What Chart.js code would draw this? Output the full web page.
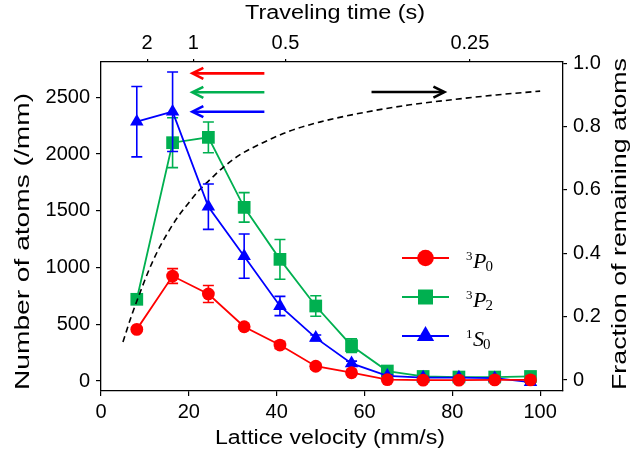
<!DOCTYPE html>
<html><head><meta charset="utf-8">
<script src="https://cdn.jsdelivr.net/npm/chart.js@4.4.1/dist/chart.umd.min.js"></script>
<style>html,body{margin:0;padding:0;background:#fff;} #wrap{width:631px;height:466px;position:relative;}</style>
</head><body><div id="wrap"><canvas id="c" width="631" height="466"></canvas></div>
<script>
// ---- data ----
const velocities = [8.15, 16.3, 24.45, 32.6, 40.75, 48.9, 57.05, 65.2, 73.35, 81.5, 89.65, 97.8];
const p0Atoms = [455, 925, 767, 478, 317, 130, 73, 12, 8, 8, 10, 10];
const p0Err   = [15, 65, 75, 20, 30, 25, 22, 8, 8, 8, 8, 8];
const p2Atoms = [720, 2100, 2147, 1530, 1072, 661, 311, 88, 40, 35, 35, 40];
const p2Err   = [20, 220, 135, 130, 175, 90, 60, 15, 10, 10, 10, 10];
const s0Atoms = [2285, 2373, 1536, 1100, 661, 380, 155, 45, 30, 30, 25, -10];
const s0Err   = [310, 350, 200, 195, 85, 25, 20, 10, 10, 10, 10, 10];
const fracVelocity  = [5, 7, 9, 11, 13, 15, 17.5, 20, 22.4, 25, 27.7, 31.5, 37, 43, 50, 60, 70, 80, 90, 100];
const fracRemaining = [0.12, 0.205, 0.28, 0.35, 0.41, 0.46, 0.515, 0.56, 0.60, 0.635, 0.67, 0.71, 0.75, 0.786, 0.815, 0.845, 0.868, 0.885, 0.90, 0.912];
const bottomTicks = [0, 20, 40, 60, 80, 100];
const leftTicks = [0, 500, 1000, 1500, 2000, 2500];
const rightTicks = [0, 0.2, 0.4, 0.6, 0.8, 1.0];
const topTickVelocities = [10.5, 21, 42, 84];
const topTickLabels = ['2', '1', '0.5', '0.25'];
const legendSup = ['3', '3', '1'];
const legendLetter = ['P', 'P', 'S'];
const legendSub = ['0', '2', '0'];
// arrows: from velocity, to velocity (tip), level on left axis
const arrowFrom = [37.2, 37.2, 37.2, 61.6];
const arrowTo   = [20.8, 20.8, 20.8, 78.2];
const arrowLevel = [2711, 2544, 2373, 2546];

const RED = '#ff0000', GREEN = '#00b050', BLUE = '#0000ff', BLACK = '#000000';
const arrowColors = [RED, GREEN, BLUE, BLACK];
const toXY = (xs, ys) => xs.map((x, i) => ({x: x, y: ys[i]}));
const SANS = '"Liberation Sans", Arial, sans-serif';
const SERIF = '"Liberation Serif", "Times New Roman", serif';

const errorBars = {
  id: 'errorBars',
  beforeDatasetDraw(chart, args) {
    const ds = chart.data.datasets[args.index];
    if (!ds.errors) return;
    const xs = chart.scales.x, ys = chart.scales[ds.yAxisID];
    const ctx = chart.ctx;
    ctx.save();
    ctx.strokeStyle = ds.borderColor; ctx.lineWidth = 1.6;
    ds.data.forEach((p, i) => {
      const e = ds.errors[i];
      const px = xs.getPixelForValue(p.x);
      const y1 = ys.getPixelForValue(p.y + e), y2 = ys.getPixelForValue(p.y - e);
      ctx.beginPath();
      ctx.moveTo(px, y1); ctx.lineTo(px, y2);
      ctx.moveTo(px - 5.5, y1); ctx.lineTo(px + 5.5, y1);
      ctx.moveTo(px - 5.5, y2); ctx.lineTo(px + 5.5, y2);
      ctx.stroke();
    });
    ctx.restore();
  }
};

function stretchedText(ctx, text, x, y, targetW, rotate, font) {
  ctx.save();
  ctx.translate(x, y);
  if (rotate) ctx.rotate(-Math.PI / 2);
  ctx.font = font;
  const w = ctx.measureText(text).width;
  ctx.scale(targetW / w, 1);
  ctx.textAlign = 'center'; ctx.textBaseline = 'alphabetic'; ctx.fillStyle = '#000';
  ctx.fillText(text, 0, 0);
  ctx.restore();
}

const decorations = {
  id: 'decorations',
  afterDatasetsDraw(chart) {
    const ctx = chart.ctx, xs = chart.scales.x, ys = chart.scales.y;
    ctx.save();
    arrowFrom.forEach((f, i) => {
      const x0 = xs.getPixelForValue(f), x1 = xs.getPixelForValue(arrowTo[i]);
      const y = ys.getPixelForValue(arrowLevel[i]);
      const dir = x1 < x0 ? 1 : -1;
      ctx.strokeStyle = arrowColors[i]; ctx.lineWidth = 2.6; ctx.lineCap = 'butt'; ctx.lineJoin = 'miter';
      ctx.beginPath(); ctx.moveTo(x0, y); ctx.lineTo(x1 + dir, y); ctx.stroke();
      ctx.beginPath();
      ctx.moveTo(x1 + dir * 11, y - 5.5); ctx.lineTo(x1, y); ctx.lineTo(x1 + dir * 11, y + 5.5);
      ctx.stroke();
    });
    ctx.restore();
  },
  afterDraw(chart) {
    const ctx = chart.ctx;
    const o = chart.options.scales;
    stretchedText(ctx, o.x.title.text, 330, 444, 230, false, '20px ' + SANS);
    stretchedText(ctx, o.xTop.title.text, 335, 19, 180, false, '20px ' + SANS);
    stretchedText(ctx, o.y.title.text, 28.5, 241.5, 297, true, '20px ' + SANS);
    stretchedText(ctx, o.y2.title.text, 626, 224, 332, true, '20px ' + SANS);
    const legendY = [258, 297, 336];
    const legendColors = [RED, GREEN, BLUE];
    ctx.save();
    legendY.forEach((yc, i) => {
      const c = legendColors[i];
      ctx.strokeStyle = c; ctx.fillStyle = c; ctx.lineWidth = 2;
      ctx.beginPath(); ctx.moveTo(402, yc); ctx.lineTo(449, yc); ctx.stroke();
      ctx.beginPath();
      if (i === 0) { ctx.arc(425.5, yc, 8.3, 0, Math.PI * 2); }
      else if (i === 1) { ctx.rect(418, yc - 7.5, 15, 15); }
      else { const r = 10; ctx.moveTo(425.5, yc - r); ctx.lineTo(425.5 + r * 0.866, yc + r / 2); ctx.lineTo(425.5 - r * 0.866, yc + r / 2); ctx.closePath(); }
      ctx.fill();
      ctx.fillStyle = '#000'; ctx.textBaseline = 'alphabetic'; ctx.textAlign = 'left';
      let x = 466;
      ctx.font = '13px ' + SERIF; ctx.fillText(legendSup[i], x, yc + 1.5);
      x += ctx.measureText(legendSup[i]).width + 0.5;
      ctx.font = 'italic 22px ' + SERIF; ctx.fillText(legendLetter[i], x, yc + 9.5);
      x += ctx.measureText(legendLetter[i]).width - 1;
      ctx.font = '15px ' + SERIF; ctx.fillText(legendSub[i], x, yc + 13);
    });
    ctx.restore();
  }
};

const tickFont = {family: SANS, size: 20};
const gridOpts = (len) => ({drawOnChartArea: false, drawTicks: true, tickLength: len, color: '#000', lineWidth: 1.2});
const borderOpts = {display: true, color: '#000', width: 1.3};

new Chart(document.getElementById('c'), {
  type: 'line',
  data: {
    datasets: [
      {label: '3P0', data: toXY(velocities, p0Atoms), errors: p0Err, yAxisID: 'y', xAxisID: 'x',
       borderColor: RED, backgroundColor: RED, pointBackgroundColor: RED, pointStyle: 'circle', pointRadius: 6.4, pointBorderWidth: 0, borderWidth: 1.8},
      {label: '1S0', data: toXY(velocities, s0Atoms), errors: s0Err, yAxisID: 'y', xAxisID: 'x',
       borderColor: BLUE, backgroundColor: BLUE, pointBackgroundColor: BLUE, pointStyle: 'triangle', pointRadius: 7.8, pointBorderWidth: 0, borderWidth: 1.8},
      {label: 'Fraction of remaining atoms', data: toXY(fracVelocity, fracRemaining), yAxisID: 'y2', xAxisID: 'x',
       borderColor: BLACK, borderDash: [6, 4], borderWidth: 1.6, pointRadius: 0, cubicInterpolationMode: 'monotone', fill: false},
      {label: '3P2', data: toXY(velocities, p2Atoms), errors: p2Err, yAxisID: 'y', xAxisID: 'x',
       borderColor: GREEN, backgroundColor: GREEN, pointBackgroundColor: GREEN, pointStyle: 'rect', pointRadius: 9, pointBorderWidth: 0, borderWidth: 1.8}
    ]
  },
  options: {
    responsive: false, animation: false, devicePixelRatio: 1,
    layout: {padding: 0},
    plugins: {legend: {display: false}, tooltip: {enabled: false}},
    scales: {
      x: {type: 'linear', position: 'bottom', min: 0, max: 105.2,
          afterBuildTicks: s => { s.ticks = bottomTicks.map(v => ({value: v})); },
          afterFit: s => { s.height = 75; },
          ticks: {font: tickFont, color: '#000', padding: 4, maxRotation: 0, autoSkip: false, callback: v => String(v)},
          grid: gridOpts(5), border: borderOpts,
          title: {display: false, text: 'Lattice velocity (mm/s)'}},
      xTop: {type: 'linear', position: 'top', min: 0, max: 105.2,
          afterBuildTicks: s => { s.ticks = topTickVelocities.map(v => ({value: v})); },
          afterFit: s => { s.height = 62; },
          ticks: {font: tickFont, color: '#000', padding: 4, maxRotation: 0, autoSkip: false,
                  callback: (v, i) => topTickLabels[i]},
          grid: gridOpts(3), border: borderOpts,
          title: {display: false, text: 'Traveling time (s)'}},
      y: {type: 'linear', position: 'left', min: -88, max: 2811,
          afterBuildTicks: s => { s.ticks = leftTicks.map(v => ({value: v})); },
          afterFit: s => { s.width = 101; },
          ticks: {font: tickFont, color: '#000', padding: 6, autoSkip: false, callback: v => String(v)},
          grid: gridOpts(5), border: borderOpts,
          title: {display: false, text: 'Number of atoms (/mm)'}},
      y2: {type: 'linear', position: 'right', min: -0.0347, max: 1.004,
          afterBuildTicks: s => { s.ticks = rightTicks.map(v => ({value: v})); },
          afterFit: s => { s.width = 68; },
          ticks: {font: tickFont, color: '#000', padding: 6, autoSkip: false,
                  callback: v => (v === 0 ? '0' : v.toFixed(1))},
          grid: gridOpts(4), border: borderOpts,
          title: {display: false, text: 'Fraction of remaining atoms'}}
    }
  },
  plugins: [errorBars, decorations]
});
</script>
</body></html>
